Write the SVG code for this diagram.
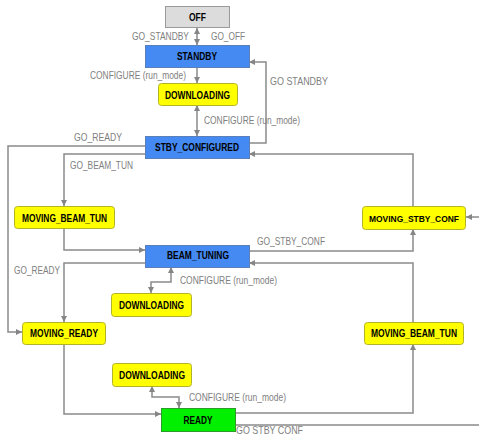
<svg xmlns="http://www.w3.org/2000/svg" width="479" height="436" viewBox="0 0 479 436">
<defs>
<marker id="ah" viewBox="0 0 10 10" refX="10" refY="5" markerWidth="6" markerHeight="6" markerUnits="userSpaceOnUse" orient="auto-start-reverse">
<path d="M0,0 L10,5 L0,10 z" fill="#858585"/>
</marker>
<style>
.c{fill:none;stroke:#8a8a8a;stroke-width:1.5}
.blue{fill:#4589f2;stroke:#5b7fb8;stroke-width:1}
.yel{fill:#ffff00;stroke:#b3b32a;stroke-width:1}
.grn{fill:#00f000;stroke:#2e9a2e;stroke-width:1}
.gry{fill:#dcdcdc;stroke:#9a9a9a;stroke-width:1}
.n{font-family:"Liberation Sans",Arial,sans-serif;font-weight:bold;font-size:10.5px;fill:#000;text-anchor:middle}
.l{font-family:"Liberation Sans",Arial,sans-serif;font-size:10.5px;fill:#808080}
</style>
</defs>
<rect width="479" height="436" fill="#ffffff"/>
<g id="connectors">
<path class="c" d="M197,28 V45" marker-start="url(#ah)" marker-end="url(#ah)"/>
<path class="c" d="M197,67 V83" marker-end="url(#ah)"/>
<path class="c" d="M197,105 V136" marker-start="url(#ah)" marker-end="url(#ah)"/>
<path class="c" d="M249,143 H266 V62 H249" marker-end="url(#ah)"/>
<path class="c" d="M145,146 H8 V332 H22" marker-end="url(#ah)"/>
<path class="c" d="M145,154 H64 V206" marker-end="url(#ah)"/>
<path class="c" d="M64,228 V250 H145" marker-end="url(#ah)"/>
<path class="c" d="M249,251 H413 V229" marker-end="url(#ah)"/>
<path class="c" d="M413,206 V154 H249" marker-end="url(#ah)"/>
<path class="c" d="M479,217 H466" marker-end="url(#ah)"/>
<path class="c" d="M413,322 V263 H249" marker-end="url(#ah)"/>
<path class="c" d="M235,413 H413 V344" marker-end="url(#ah)"/>
<path class="c" d="M145,263 H64 V322" marker-end="url(#ah)"/>
<path class="c" d="M64,344 V414 H161" marker-end="url(#ah)"/>
<path class="c" d="M171,267 V282 H151 V293" marker-start="url(#ah)" marker-end="url(#ah)"/>
<path class="c" d="M152,386 V397 H179 V408" marker-start="url(#ah)" marker-end="url(#ah)"/>
<path class="c" d="M235,425 H479"/>
<text class="l" x="132" y="40" textLength="57" lengthAdjust="spacingAndGlyphs">GO_STANDBY</text>
<text class="l" x="211" y="40" textLength="34" lengthAdjust="spacingAndGlyphs">GO_OFF</text>
<text class="l" x="90" y="79" textLength="96" lengthAdjust="spacingAndGlyphs">CONFIGURE (run_mode)</text>
<text class="l" x="270" y="85" textLength="58" lengthAdjust="spacingAndGlyphs">GO  STANDBY</text>
<text class="l" x="204" y="124" textLength="96" lengthAdjust="spacingAndGlyphs">CONFIGURE (run_mode)</text>
<text class="l" x="74" y="141" textLength="48" lengthAdjust="spacingAndGlyphs">GO_READY</text>
<text class="l" x="70" y="169" textLength="63" lengthAdjust="spacingAndGlyphs">GO_BEAM_TUN</text>
<text class="l" x="257" y="245" textLength="68" lengthAdjust="spacingAndGlyphs">GO_STBY_CONF</text>
<text class="l" x="14" y="274" textLength="46" lengthAdjust="spacingAndGlyphs">GO_READY</text>
<text class="l" x="180" y="284" textLength="97" lengthAdjust="spacingAndGlyphs">CONFIGURE (run_mode)</text>
<text class="l" x="189" y="401" textLength="97" lengthAdjust="spacingAndGlyphs">CONFIGURE (run_mode)</text>
<text class="l" x="236" y="434" textLength="67" lengthAdjust="spacingAndGlyphs">GO  STBY  CONF</text>
</g>
<g id="off"><rect class="gry" x="165.5" y="6.5" width="64" height="21"/><text class="n" x="197.5" y="21" textLength="17" lengthAdjust="spacingAndGlyphs">OFF</text></g>
<g id="standby"><rect class="blue" x="145.5" y="45.5" width="104" height="22"/><text class="n" x="197" y="60" textLength="40" lengthAdjust="spacingAndGlyphs">STANDBY</text></g>
<g id="downloading1"><rect class="yel" x="158.5" y="83.5" width="79" height="22" rx="3"/><text class="n" x="197.5" y="99" textLength="65" lengthAdjust="spacingAndGlyphs">DOWNLOADING</text></g>
<g id="stby_configured"><rect class="blue" x="145.5" y="136.5" width="104" height="22"/><text class="n" x="197" y="151" textLength="84" lengthAdjust="spacingAndGlyphs">STBY_CONFIGURED</text></g>
<g id="moving_beam_tun_left"><rect class="yel" x="14.5" y="206.5" width="100" height="22" rx="3"/><text class="n" x="64.5" y="222" textLength="85" lengthAdjust="spacingAndGlyphs">MOVING_BEAM_TUN</text></g>
<g id="moving_stby_conf"><rect class="yel" x="362.5" y="206.5" width="103" height="23" rx="3"/><text class="n" x="414" y="222" style="font-size:9px" textLength="90" lengthAdjust="spacingAndGlyphs">MOVING_STBY_CONF</text></g>
<g id="beam_tuning"><rect class="blue" x="145.5" y="245.5" width="104" height="22"/><text class="n" x="198" y="259" textLength="62" lengthAdjust="spacingAndGlyphs">BEAM_TUNING</text></g>
<g id="downloading2"><rect class="yel" x="111.5" y="293.5" width="80" height="23" rx="3"/><text class="n" x="151.5" y="309" textLength="65" lengthAdjust="spacingAndGlyphs">DOWNLOADING</text></g>
<g id="moving_ready"><rect class="yel" x="22.5" y="322.5" width="83" height="22" rx="3"/><text class="n" x="64" y="337" textLength="68" lengthAdjust="spacingAndGlyphs">MOVING_READY</text></g>
<g id="moving_beam_tun_right"><rect class="yel" x="364.5" y="322.5" width="99" height="22" rx="3"/><text class="n" x="414" y="337" textLength="86" lengthAdjust="spacingAndGlyphs">MOVING_BEAM_TUN</text></g>
<g id="downloading3"><rect class="yel" x="112.5" y="363.5" width="79" height="23" rx="3"/><text class="n" x="152" y="379" textLength="66" lengthAdjust="spacingAndGlyphs">DOWNLOADING</text></g>
<g id="ready"><rect class="grn" x="161.5" y="408.5" width="74" height="23"/><text class="n" x="198" y="424" textLength="29" lengthAdjust="spacingAndGlyphs">READY</text></g>
</svg>
